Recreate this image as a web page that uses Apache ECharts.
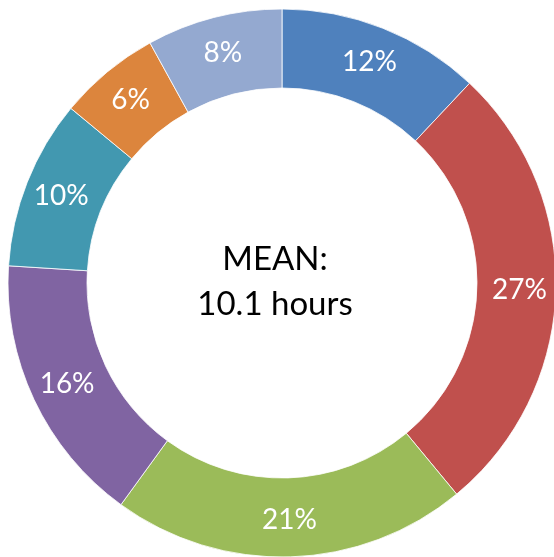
<!DOCTYPE html>
<html>
<head>
<meta charset="utf-8">
<script src="https://cdn.jsdelivr.net/npm/echarts@6/dist/echarts.min.js"></script>
<style>
  html, body { margin: 0; padding: 0; background: #fff; }
  #chart { width: 554px; height: 557px; }
</style>
</head>
<body>
<div id="chart"></div>
<script>
// 各分段占比（%），从12点方向顺时针
var categories = ['A', 'B', 'C', 'D', 'E', 'F', 'G'];
var shares = [12, 27, 21, 16, 10, 6, 8];
var colors = ['#4F81BD', '#C0504D', '#9BBB59', '#8064A2', '#4298B0', '#DC853D', '#94A9D0'];
var centerText = ['MEAN:', '10.1 hours'];

var chart = echarts.init(document.getElementById('chart'));

var data = categories.map(function (name, i) {
  return { name: name, value: shares[i], itemStyle: { color: colors[i] } };
});

var option = {
  animation: false,
  graphic: [{
    type: 'text',
    x: 275,
    y: 282,
    style: {
      text: centerText.join('\n'),
      x: 0, y: 0,
      textAlign: 'center',
      textVerticalAlign: 'middle',
      font: '33px Lato',
      lineHeight: 45,
      fill: '#000'
    }
  }],
  series: [{
    type: 'pie',
    center: [282, 283],
    radius: [195, 274],
    startAngle: 90,
    clockwise: true,
    itemStyle: { borderColor: '#fff', borderWidth: 0.8 },
    label: {
      show: true,
      position: 'inside',
      formatter: function (p) { return p.value + '%'; },
      color: '#fff',
      fontFamily: 'Lato',
      fontSize: 28
    },
    labelLine: { show: false },
    emphasis: { disabled: true },
    data: data
  }]
};
chart.setOption(option);
</script>
</body>
</html>
